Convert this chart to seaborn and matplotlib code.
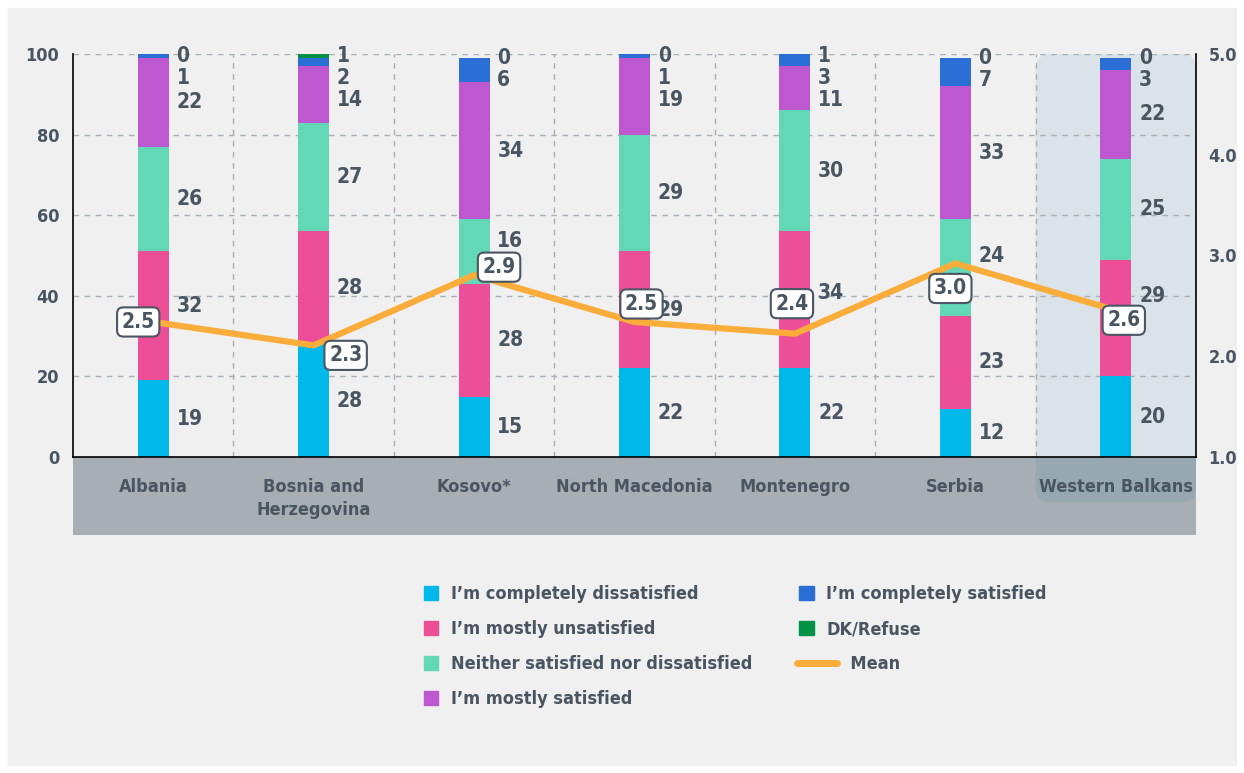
import matplotlib
matplotlib.use("Agg")
import matplotlib.pyplot as plt
import matplotlib.patches as mpatches
from matplotlib.lines import Line2D
from matplotlib.legend_handler import HandlerLine2D
from matplotlib import font_manager as fm
import seaborn as sns
import pandas as pd
import numpy as np

# ============================================================
# DATA
# ============================================================

countries = ["Albania", "Bosnia and\nHerzegovina", "Kosovo*", "North Macedonia",
             "Montenegro", "Serbia", "Western Balkans"]

answers = ["I\u2019m completely dissatisfied", "I\u2019m mostly unsatisfied",
           "Neither satisfied nor dissatisfied", "I\u2019m mostly satisfied",
           "I\u2019m completely satisfied", "DK/Refuse"]

completely_dissatisfied = [19, 28, 15, 22, 22, 12, 20]
mostly_unsatisfied      = [32, 28, 28, 29, 34, 23, 29]
neither                 = [26, 27, 16, 29, 30, 24, 25]
mostly_satisfied        = [22, 14, 34, 19, 11, 33, 22]
completely_satisfied    = [1, 2, 6, 1, 3, 7, 3]
dk_refuse               = [0, 1, 0, 0, 1, 0, 0]

mean_score  = [2.5, 2.3, 2.9, 2.5, 2.4, 3.0, 2.6]
mean_labels = ["2.5", "2.3", "2.9", "2.5", "2.4", "3.0", "2.6"]

# ============================================================
# STYLE
# ============================================================

BG        = "#EFF0EF"
TEXT      = "#4A5562"
GRID      = "#A9AFB3"
BAND      = "#A7AEB4"
HL_LIGHT  = "#DAE3E9"
HL_DARK   = "#98A8B3"
LINE_COL  = "#FBAD3C"
colors    = ["#00B9EA", "#EC4F98", "#62D8B6", "#BE58D0", "#2B6FD6", "#009245"]

# pixel offsets of the mean label boxes from their points
box_offsets = [(-15, 0), (32, -10), (25, 8), (7, 18), (-3, 30), (-5, -25), (8, -10)]
# value labels moved up so they clear the mean boxes: (country, segment) -> units
label_nudge = {(0, 1): 2.5, (2, 2): 2.6, (4, 1): 1.6, (5, 2): 2.8, (6, 1): 5.5}

sns.set_theme(style="white", rc={"axes.facecolor": "none", "figure.facecolor": "white"})

# pick a narrow family if one is installed (source uses a condensed font)
entries = fm.fontManager.ttflist
names = {f.name for f in entries}
family, stretch = "DejaVu Sans", "normal"
if "Liberation Sans Narrow" in names:
    family = "Liberation Sans Narrow"
elif any(f.name == "DejaVu Sans" and str(f.stretch) in ("condensed", "semi-condensed")
         for f in entries):
    family, stretch = "DejaVu Sans", "condensed"
else:
    cands = sorted(n for n in names if "Condensed" in n or "Narrow" in n)
    if cands:
        family = cands[0]
    elif "Roboto" in names:
        family = "Roboto"

plt.rcParams["font.family"] = [family, "DejaVu Sans"]
plt.rcParams["font.stretch"] = stretch
plt.rcParams["font.weight"] = "bold"

series = [completely_dissatisfied, mostly_unsatisfied, neither,
          mostly_satisfied, completely_satisfied, dk_refuse]
rows = []
for ans, vals in zip(answers, series):
    for i, c in enumerate(countries):
        rows.append({"country": c, "answer": ans, "value": vals[i]})
df = pd.DataFrame(rows)

fig = plt.figure(figsize=(12.44, 7.73), dpi=100)
fig.patches.append(mpatches.Rectangle((8 / 1244, 8 / 773), 1228 / 1244, 757 / 773,
                                      transform=fig.transFigure, color=BG, zorder=-10))

ax = fig.add_axes([73 / 1244, 1 - 457 / 773, 1123 / 1244, 403 / 773])

# ── Stacked bars ─────────────────────────────────────────
bottom = [0] * len(countries)
for ans, col, vals in zip(answers, colors, series):
    sub = df[df["answer"] == ans]
    sns.barplot(data=sub, x="country", y="value", color=col, width=0.193,
                bottom=bottom, ax=ax, zorder=2, linewidth=0, saturation=1,
                errorbar=None)
    bottom = [b + v for b, v in zip(bottom, vals)]

ax.set_xlim(-0.5, 6.5)
ax.set_ylim(0, 100)

# ── Value labels (pushed apart at top) ───────────────────
for i in range(len(countries)):
    cum = 0
    centers = []
    for k, vals in enumerate(series):
        centers.append(cum + vals[i] / 2 + label_nudge.get((i, k), 0))
        cum += vals[i]
    ys = [0] * len(series)
    prev = 105.5
    for k in range(len(series) - 1, -1, -1):
        y = min(centers[k], prev - 5.5, 99.5)
        ys[k] = y
        prev = y
    for k, vals in enumerate(series):
        ax.text(i + 0.145, ys[k], str(vals[i]), ha="left", va="center",
                fontsize=15, fontweight="bold", color=TEXT, zorder=3)

# ── Grid ─────────────────────────────────────────────────
for y in [20, 40, 60, 80, 100]:
    ax.axhline(y, color=GRID, lw=1, ls=(0, (4, 4)), zorder=1)
for x in [0.5, 1.5, 2.5, 3.5, 4.5, 5.5]:
    ax.axvline(x, color=GRID, lw=1, ls=(0, (4, 4)), zorder=1)

# ── Highlight for Western Balkans + category band ────────
asp = 1123 / 403
hl_kw = dict(boxstyle="round,pad=0,rounding_size=0.013", mutation_aspect=asp,
             transform=ax.transAxes, edgecolor="none")
hl = mpatches.FancyBboxPatch((6 / 7, -45 / 403), 1 / 7, 1 + 45 / 403,
                             facecolor=HL_LIGHT, zorder=0.2, clip_on=False, **hl_kw)
ax.add_patch(hl)
band = mpatches.Rectangle((0, -78 / 403), 1, 78 / 403, transform=ax.transAxes,
                          facecolor=BAND, edgecolor="none", zorder=1, clip_on=False)
ax.add_patch(band)
hl2 = mpatches.FancyBboxPatch((6 / 7, -45 / 403), 1 / 7, 1 + 45 / 403,
                              facecolor=HL_DARK, zorder=1.2, **hl_kw)
ax.add_patch(hl2)
hl2.set_clip_path(band)

for i, c in enumerate(countries):
    ax.text(i, -21 / 403, c, transform=ax.get_xaxis_transform(), ha="center",
            va="top", fontsize=13, fontweight="bold", color=TEXT,
            linespacing=1.35, zorder=3)

# ── Axes styling ─────────────────────────────────────────
ax.set_xticks([])
ax.set_xlabel("")
ax.set_ylabel("")
ax.set_yticks([0, 20, 40, 60, 80, 100])
ax.tick_params(axis="y", length=0, pad=10, labelsize=13, labelcolor=TEXT)
for lab in ax.get_yticklabels():
    lab.set_fontweight("bold")
ax.spines["top"].set_visible(False)
for s in ["left", "bottom", "right"]:
    ax.spines[s].set_color("black")
    ax.spines[s].set_linewidth(1.2)
    ax.spines[s].set_zorder(3)

# ── Right axis (mean scale) ──────────────────────────────
ax2 = ax.twinx()
ax2.set_ylim(1, 5)
ax2.set_yticks([1, 2, 3, 4, 5])
ax2.set_yticklabels(["1.0", "2.0", "3.0", "4.0", "5.0"])
ax2.tick_params(axis="y", length=0, pad=9, labelsize=13, labelcolor=TEXT)
for lab in ax2.get_yticklabels():
    lab.set_fontweight("bold")
for s in ax2.spines.values():
    s.set_visible(False)
ax2.grid(False)

# ── Mean line (drawn on its own scale as in the source) ─
ax3 = ax.twinx()
ax3.set_ylim(1.346, 4.79)
ax3.axis("off")
sns.lineplot(x=list(range(len(countries))), y=mean_score, ax=ax3,
             color=LINE_COL, lw=4.5, zorder=4, legend=False)
ax3.set_xlim(-0.5, 6.5)
for i, (v, lab) in enumerate(zip(mean_score, mean_labels)):
    dx, dy = box_offsets[i]
    ax3.annotate(lab, (i, v), xytext=(dx * 0.72, dy * 0.72), textcoords="offset points",
                 ha="center", va="center", fontsize=15, fontweight="bold", color=TEXT,
                 bbox=dict(boxstyle="round,pad=0.22,rounding_size=0.3", fc="white",
                           ec="#4B5563", lw=1.5),
                 zorder=5)

# ── Legend ───────────────────────────────────────────────
class LongLine(HandlerLine2D):
    """Legend line that runs a bit longer than the square swatches."""
    def create_artists(self, legend, orig, xdescent, ydescent, width, height,
                       fontsize, trans):
        arts = super().create_artists(legend, orig, xdescent, ydescent, width,
                                      height, fontsize, trans)
        for a in arts:
            n = len(a.get_xdata())
            if n >= 2:
                a.set_xdata(np.linspace(-0.2 * width, 2.6 * width, n))
        return arts


handles = [mpatches.Patch(color=c, label=a) for c, a in zip(colors, answers)]
mean_handle = Line2D([0], [0], color=LINE_COL, lw=5, solid_capstyle="round",
                     label="\u2002\u2002\u2002Mean")
handles.append(mean_handle)
fig.legend(handles=handles, ncol=2, loc="upper left",
           bbox_to_anchor=(424 / 1244, 1 - 585 / 773), frameon=False,
           labelcolor=TEXT, handlelength=0.8, handleheight=0.8,
           handletextpad=0.7, columnspacing=2.6, labelspacing=0.95, borderpad=0,
           borderaxespad=0, handler_map={mean_handle: LongLine()},
           prop={"weight": "bold", "size": 13, "family": [family, "DejaVu Sans"],
                 "stretch": stretch})

fig.savefig("out.png", dpi=100)
